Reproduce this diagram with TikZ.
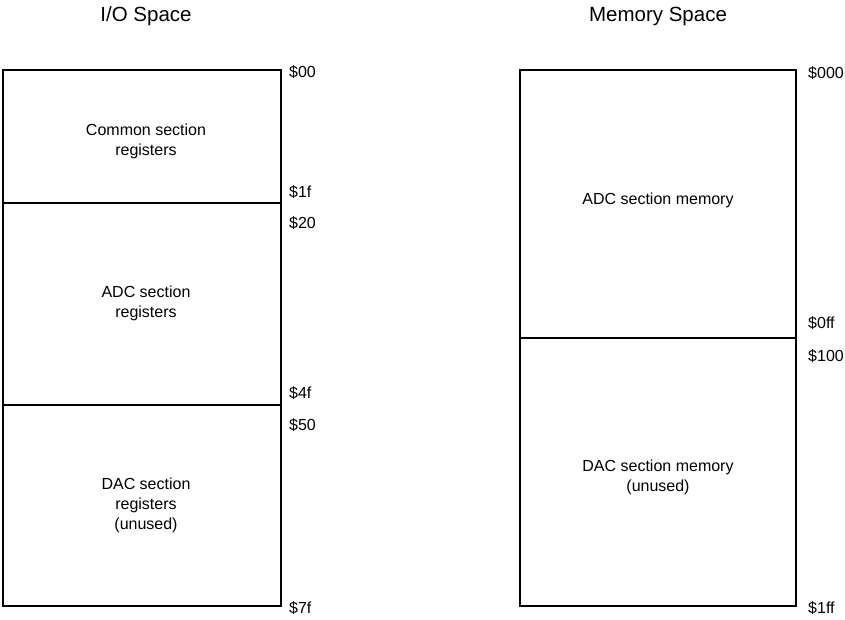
\documentclass[tikz,border=0pt]{standalone}
\usepackage{fontspec}
\setmainfont{Liberation Sans}
\begin{document}
\begin{tikzpicture}[x=1pt,y=-1pt,
  box/.style={draw=black,line width=1.3pt,fill=none},
  sep/.style={draw=black,line width=1.3pt},
  lbl/.style={anchor=base west,inner sep=0pt,font=\fontsize{16}{19}\selectfont},
  txt/.style={align=center,inner sep=0pt,font=\fontsize{16}{20}\selectfont},
  ttl/.style={anchor=base,inner sep=0pt,font=\fontsize{20.5}{24}\selectfont}]
\useasboundingbox (0,0) rectangle (845,619);
% titles
\node[ttl] (t1) at (146,21) {I/O Space};
\node[ttl] (t2) at (658,21) {Memory Space};
% left box
\coordinate (la) at (3,70);
\coordinate (lb) at (281,606);
\draw[box] (la) rectangle (lb);
\coordinate (l1w) at (3,203); \coordinate (l1e) at (281,203);
\coordinate (l2w) at (3,405); \coordinate (l2e) at (281,405);
\draw[sep] (l1w) -- (l1e);
\draw[sep] (l2w) -- (l2e);
% right box
\coordinate (ra) at (520,70);
\coordinate (rb) at (796,606);
\draw[box] (ra) rectangle (rb);
\coordinate (r1w) at (520,338); \coordinate (r1e) at (796,338);
\draw[sep] (r1w) -- (r1e);
% box texts
\node[txt] (c1) at (146,141.5) {Common section\\registers};
\node[txt] (c2) at (146,303) {ADC section\\registers};
\node[txt] (c3) at (146,505) {DAC section\\registers\\(unused)};
\node[txt] (m1) at (658,200) {ADC section memory};
\node[txt] (m2) at (658,477) {DAC section memory\\(unused)};
% address labels
\node[lbl] (a00) at (289,77) {\$00};
\node[lbl] (a1f) at (289,197) {\$1f};
\node[lbl] (a20) at (289,228) {\$20};
\node[lbl] (a4f) at (289,398) {\$4f};
\node[lbl] (a50) at (289,430) {\$50};
\node[lbl] (a7f) at (289,613) {\$7f};
\node[lbl] (b000) at (808,78) {\$000};
\node[lbl] (b0ff) at (808,328) {\$0ff};
\node[lbl] (b100) at (808,361) {\$100};
\node[lbl] (b1ff) at (808,613) {\$1ff};
\end{tikzpicture}
\end{document}
